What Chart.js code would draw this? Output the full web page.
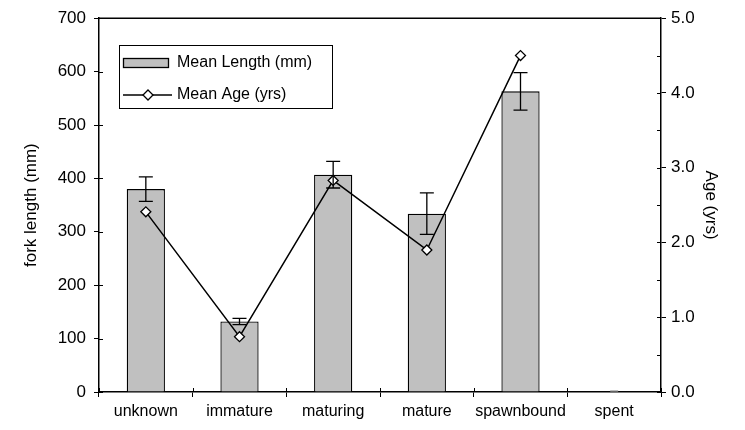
<!DOCTYPE html>
<html>
<head>
<meta charset="utf-8">
<script src="https://cdn.jsdelivr.net/npm/chart.js@4"></script>
<style>
  html, body { margin: 0; padding: 0; background: #fff; }
  #wrap { width: 745px; height: 430px; position: relative; }
</style>
</head>
<body>
<div id="wrap"><canvas id="chart"></canvas></div>
<script>
// datos
const categories = ['unknown', 'immature', 'maturing', 'mature', 'spawnbound', 'spent'];
const meanLength = [380, 132, 407, 334, 563, 0];
const lengthErr = [23, 6, 25, 39, 35, 0];
const meanAge = [2.41, 0.74, 2.83, 1.9, 4.5, null];
const lengthTicks = [0, 100, 200, 300, 400, 500, 600, 700];
const ageTicks = [0, 1, 2, 3, 4, 5];

const FONT = 'Liberation Sans, Arial, sans-serif';

// barras de error + marco superior + leyenda dentro del area
const extras = {
    id: 'extras',
    afterDatasetsDraw(chart) {
        const ctx = chart.ctx;
        const x = chart.scales.x;
        const y = chart.scales.y;
        const area = chart.chartArea;
        ctx.save();
        ctx.strokeStyle = '#000';
        ctx.lineWidth = 1.3;
        meanLength.forEach((v, i) => {
            const cx = x.getPixelForValue(i);
            const top = y.getPixelForValue(v + lengthErr[i]);
            const bot = y.getPixelForValue(v - lengthErr[i]);
            if (lengthErr[i] === 0) {
                ctx.strokeStyle = '#999';
                ctx.beginPath();
                ctx.moveTo(cx - 4, top - 1); ctx.lineTo(cx + 4, top - 1);
                ctx.stroke();
                ctx.strokeStyle = '#000';
                return;
            }
            ctx.beginPath();
            ctx.moveTo(cx, top); ctx.lineTo(cx, bot);
            ctx.moveTo(cx - 7, top); ctx.lineTo(cx + 7, top);
            ctx.moveTo(cx - 7, bot); ctx.lineTo(cx + 7, bot);
            ctx.stroke();
        });
        // linea superior del marco
        ctx.lineWidth = 1.5;
        ctx.beginPath();
        ctx.moveTo(area.left, area.top); ctx.lineTo(area.right, area.top);
        ctx.stroke();
        // marcas que cruzan los ejes (dentro del area)
        ctx.lineWidth = 1;
        const y1 = chart.scales.y1;
        lengthTicks.forEach(v => {
            const py = Math.round(y.getPixelForValue(v)) + 0.5;
            ctx.beginPath();
            ctx.moveTo(area.left, py); ctx.lineTo(area.left + 4, py);
            ctx.stroke();
        });
        for (let v = 0; v <= 5; v += 0.5) {
            const py = Math.round(y1.getPixelForValue(v)) + 0.5;
            ctx.beginPath();
            ctx.moveTo(area.right - 4, py); ctx.lineTo(area.right, py);
            ctx.stroke();
        }
        for (let i = 0; i <= categories.length; i++) {
            const px = Math.round(area.left + (area.right - area.left) * i / categories.length) + 0.5;
            ctx.beginPath();
            ctx.moveTo(px, area.bottom - 4); ctx.lineTo(px, area.bottom);
            ctx.stroke();
        }
        ctx.restore();
    },
    afterDraw(chart) {
        const ctx = chart.ctx;
        ctx.save();
        // caja de la leyenda
        ctx.fillStyle = '#fff';
        ctx.fillRect(119, 45, 214, 64);
        ctx.strokeStyle = '#000';
        ctx.lineWidth = 1;
        ctx.strokeRect(119.5, 45.5, 213, 63);
        // muestra de barra
        ctx.fillStyle = '#c0c0c0';
        ctx.fillRect(123, 58, 46, 10);
        ctx.lineWidth = 1.3;
        ctx.strokeRect(123.5, 58.5, 45, 9);
        // muestra de linea con rombo
        ctx.beginPath();
        ctx.moveTo(123, 95); ctx.lineTo(172, 95);
        ctx.stroke();
        ctx.beginPath();
        ctx.moveTo(148, 90); ctx.lineTo(153, 95); ctx.lineTo(148, 100); ctx.lineTo(143, 95);
        ctx.closePath();
        ctx.fillStyle = '#fff';
        ctx.fill();
        ctx.stroke();
        ctx.fillStyle = '#000';
        ctx.font = '16px ' + FONT;
        ctx.textBaseline = 'middle';
        ctx.fillText('Mean Length (mm)', 177, 63);
        ctx.fillText('Mean Age (yrs)', 177, 95);
        ctx.restore();
    }
};

new Chart(document.getElementById('chart'), {
    type: 'bar',
    data: {
        labels: categories,
        datasets: [
            {
                type: 'line',
                label: 'Mean Age (yrs)',
                data: meanAge,
                yAxisID: 'y1',
                borderColor: '#000',
                borderWidth: 1.5,
                pointStyle: 'rectRot',
                pointRadius: 5,
                pointBackgroundColor: '#fff',
                pointBorderColor: '#000',
                pointBorderWidth: 1.3,
                tension: 0,
                order: 0
            },
            {
                label: 'Mean Length (mm)',
                data: meanLength,
                yAxisID: 'y',
                backgroundColor: '#c0c0c0',
                borderColor: '#000',
                borderWidth: 1.3,
                categoryPercentage: 0.8,
                barPercentage: 0.51,
                order: 1
            }
        ]
    },
    options: {
        responsive: true,
        maintainAspectRatio: false,
        animation: false,
        layout: { padding: { top: 18, left: 0, right: 0, bottom: 0 } },
        plugins: {
            legend: { display: false },
            tooltip: { enabled: false }
        },
        scales: {
            x: {
                offset: true,
                grid: { offset: true, drawOnChartArea: false, drawTicks: true, tickLength: 5, color: '#000' },
                border: { color: '#000', width: 1.5 },
                ticks: { color: '#000', font: { family: FONT, size: 16 }, maxRotation: 0, autoSkip: false, padding: 5 },
                afterFit(scale) { scale.height = 38; }
            },
            y: {
                position: 'left',
                min: 0,
                max: 700,
                afterBuildTicks(scale) { scale.ticks = lengthTicks.map(v => ({ value: v })); },
                grid: { drawOnChartArea: false, tickLength: 5, color: '#000' },
                border: { color: '#000', width: 1.5 },
                ticks: { color: '#000', font: { family: FONT, size: 17 }, padding: 8 },
                title: { display: true, text: 'fork length (mm)', color: '#000', font: { family: FONT, size: 17 }, padding: { top: 21, bottom: 0 } },
                afterFit(scale) { scale.width = 99; }
            },
            y1: {
                position: 'right',
                min: 0,
                max: 5,
                afterBuildTicks(scale) {
                    const t = [];
                    ageTicks.forEach((v, i) => {
                        t.push({ value: v });
                        if (i < ageTicks.length - 1) t.push({ value: v + 0.5 });
                    });
                    scale.ticks = t;
                },
                grid: {
                    drawOnChartArea: false,
                    tickLength: 5,
                    color: ctx => (ctx.tick && Number.isInteger(ctx.tick.value) ? '#000' : 'rgba(0,0,0,0)')
                },
                border: { color: '#000', width: 1.5 },
                ticks: {
                    color: '#000',
                    font: { family: FONT, size: 17 },
                    padding: 5,
                    callback: v => (Number.isInteger(v) ? v.toFixed(1) : '')
                },
                title: { display: true, text: 'Age (yrs)', color: '#000', font: { family: FONT, size: 17 }, padding: { top: 24, bottom: 0 } },
                afterFit(scale) { scale.width = 84; }
            }
        }
    },
    plugins: [extras]
});
</script>
</body>
</html>
